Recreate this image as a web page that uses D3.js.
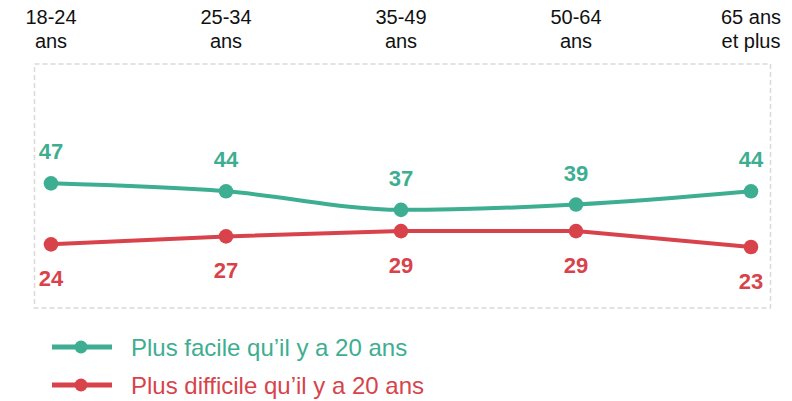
<!DOCTYPE html>
<html>
<head>
<meta charset="utf-8">
<script src="https://cdn.jsdelivr.net/npm/d3@7"></script>
<style>
  body { margin: 0; background: #fff; }
  text { font-family: "Liberation Sans", Arial, sans-serif; }
</style>
</head>
<body>
<div id="chart"></div>
<script>
var categories = ["18-24|ans", "25-34|ans", "35-49|ans", "50-64|ans", "65 ans|et plus"];
var plusFacile = [47, 44, 37, 39, 44];
var plusDifficile = [24, 27, 29, 29, 23];
var seriesNames = ["Plus facile qu\u2019il y a 20 ans", "Plus difficile qu\u2019il y a 20 ans"];
var colors = ["#3dae91", "#d8434b"];

var width = 792, height = 401;

var svg = d3
  .select("#chart")
  .append("svg")
  .attr("width", width)
  .attr("height", height);

var x = d3.scalePoint().domain(categories).range([51, 751]);
var y = d3.scaleLinear().domain([0, 92]).range([308, 64]);

// dashed frame
svg
  .append("rect")
  .attr("x", 34.5)
  .attr("y", y(92))
  .attr("width", 736)
  .attr("height", y(0) - y(92))
  .attr("fill", "none")
  .attr("stroke", "#d9d9d9")
  .attr("stroke-width", 1.5)
  .attr("stroke-dasharray", "5,3");

// category labels on top
var cat = svg
  .selectAll(".cat")
  .data(categories)
  .enter()
  .append("text")
  .attr("class", "cat")
  .attr("text-anchor", "middle")
  .style("font-size", "20px")
  .attr("fill", "#111");

cat
  .selectAll("tspan")
  .data((d) => d.split("|").map((t) => ({ t: t, c: d })))
  .enter()
  .append("tspan")
  .attr("x", (d) => x(d.c))
  .attr("y", (d, i) => 24 + i * 24)
  .text((d) => d.t);

var series = [
  { name: seriesNames[0], values: plusFacile, color: colors[0], dy: -24, curve: d3.curveMonotoneX },
  { name: seriesNames[1], values: plusDifficile, color: colors[1], dy: 42, curve: d3.curveLinear },
];

series.forEach(function (s) {
  var line = d3
    .line()
    .x((d, i) => x(categories[i]))
    .y((d) => y(d))
    .curve(s.curve);

  svg
    .append("path")
    .attr("d", line(s.values))
    .attr("fill", "none")
    .attr("stroke", s.color)
    .attr("stroke-width", 4);

  svg
    .selectAll(null)
    .data(s.values)
    .enter()
    .append("circle")
    .attr("cx", (d, i) => x(categories[i]))
    .attr("cy", (d) => y(d))
    .attr("r", 7.3)
    .attr("fill", s.color);

  svg
    .selectAll(null)
    .data(s.values)
    .enter()
    .append("text")
    .attr("x", (d, i) => x(categories[i]))
    .attr("y", (d) => y(d) + s.dy)
    .attr("text-anchor", "middle")
    .style("font-size", "22px")
    .style("font-weight", "bold")
    .attr("fill", s.color)
    .text((d) => d);
});

// Legend
var legend = svg
  .selectAll(".legend")
  .data(series)
  .enter()
  .append("g")
  .attr("class", "legend")
  .attr("transform", (d, i) => `translate(0, ${347 + i * 38})`);

legend
  .append("line")
  .attr("x1", 52)
  .attr("x2", 112)
  .attr("stroke", (d) => d.color)
  .attr("stroke-width", 5);

legend
  .append("circle")
  .attr("cx", 81)
  .attr("r", 6.5)
  .attr("fill", (d) => d.color);

legend
  .append("text")
  .attr("x", 131)
  .attr("y", 8.5)
  .style("font-size", "24px")
  .attr("fill", (d) => d.color)
  .text((d) => d.name);
</script>
</body>
</html>
